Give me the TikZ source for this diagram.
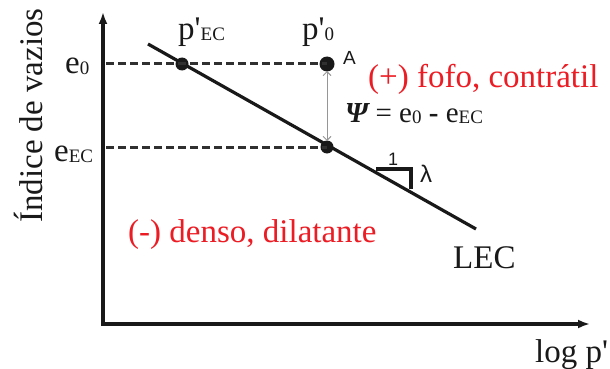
\documentclass[tikz,border=0pt]{standalone}
\usepackage{fontspec}
\setmainfont{Liberation Serif}
\newfontfamily\labelsans{Liberation Sans}
\usetikzlibrary{arrows.meta}
\definecolor{ink}{RGB}{25,25,25}
\definecolor{warn}{RGB}{236,28,36}
\definecolor{soft}{RGB}{150,150,150}
\newcommand{\bigtxt}{\fontsize{33}{36}\selectfont}
\newcommand{\lowidx}[1]{\raisebox{-1pt}{\fontsize{19}{19}\selectfont #1}}
\newcommand{\prm}{\textquotesingle}
\tikzset{
  axis/.style={ink, line width=3.5pt, {Latex[length=12pt,width=9pt]}-{Latex[length=12pt,width=9pt]}},
  lec/.style={ink, line width=3.2pt},
  guide/.style={ink!90, line width=3pt, dash pattern=on 8pt off 4pt},
  gap/.style={soft, line width=0.9pt, {Straight Barb[length=4pt]}-{Straight Barb[length=4pt]},
              shorten >=6pt, shorten <=7pt},
  dot/.style={circle, fill=ink, inner sep=0pt, minimum size=13pt},
  txt/.style={inner sep=0pt, anchor=base west, font=\bigtxt, text=ink},
  note/.style={txt, text=warn},
  sans/.style={inner sep=0pt, anchor=base west, text=ink},
}

\begin{document}
\begin{tikzpicture}[x=1pt,y=-1pt]
    \useasboundingbox (0,0) rectangle (610,369);
    % --- axes ---
    \coordinate (O) at (103,324);
    \coordinate (ytip) at (103,12);
    \coordinate (xtip) at (590,324);
    \draw[axis] (xtip) -- (O) -- (ytip);
    \node[txt,rotate=90] (ylab) at (42,223) {Índice de vazios};
    \node[txt] (xlab) at (535,362) {log p\prm};
    % --- LEC line ---
    \coordinate (lecA) at (148,44);
    \coordinate (lecB) at (476,229);
    \draw[lec] (lecA) -- (lecB);
    \node[txt] (leclab) at (453,268) {LEC};
    % --- points ---
    \coordinate (e0ax) at (106,64);
    \coordinate (eECax) at (106,147);
    \node[dot] (pEC) at (182,64) {};
    \node[dot,minimum width=15pt] (A) at (327,64) {};
    \node[dot] (B) at (327,147) {};
    \draw[guide] (e0ax) -- (A.center);
    \draw[guide] (eECax) -- (B.center);
    \draw[gap] (A.center) -- (B.center);
    \node[sans,font=\labelsans\fontsize{19}{20}\selectfont] (Alab) at (343,64) {A};
    % --- axis labels ---
    \node[txt] (e0lab) at (65,74) {e\lowidx{0}};
    \node[txt] (eEClab) at (54,161) {e\lowidx{EC}};
    \node[txt] (pEClab) at (178,40) {p\prm\lowidx{EC}};
    \node[txt] (p0lab) at (302,40) {p\prm\lowidx{0}};
    % --- slope ---
    \coordinate (tri1) at (376,169);
    \coordinate (tri2) at (411,169);
    \coordinate (tri3) at (411,189);
    \draw[lec,line cap=butt] (tri1) -- (tri2) -- (tri3);
    \node[sans,anchor=base,font=\labelsans\fontsize{18}{20}\selectfont] (one) at (393,165) {1};
    \node[sans,font=\labelsans\fontsize{24}{26}\selectfont] (lam) at (420,182) {λ};
    % --- notes ---
    \node[note] (loose) at (368,87) {(+) fofo, contrátil};
    \node[note] (dense) at (128,242) {(-) denso, dilatante};
    \node[txt,font=\fontsize{29}{32}\selectfont] (psi) at (345,122)
      {{\bfseries\itshape Ψ} = e\lowidx{0} \textbf{-} e\lowidx{EC}};
\end{tikzpicture}
\end{document}
